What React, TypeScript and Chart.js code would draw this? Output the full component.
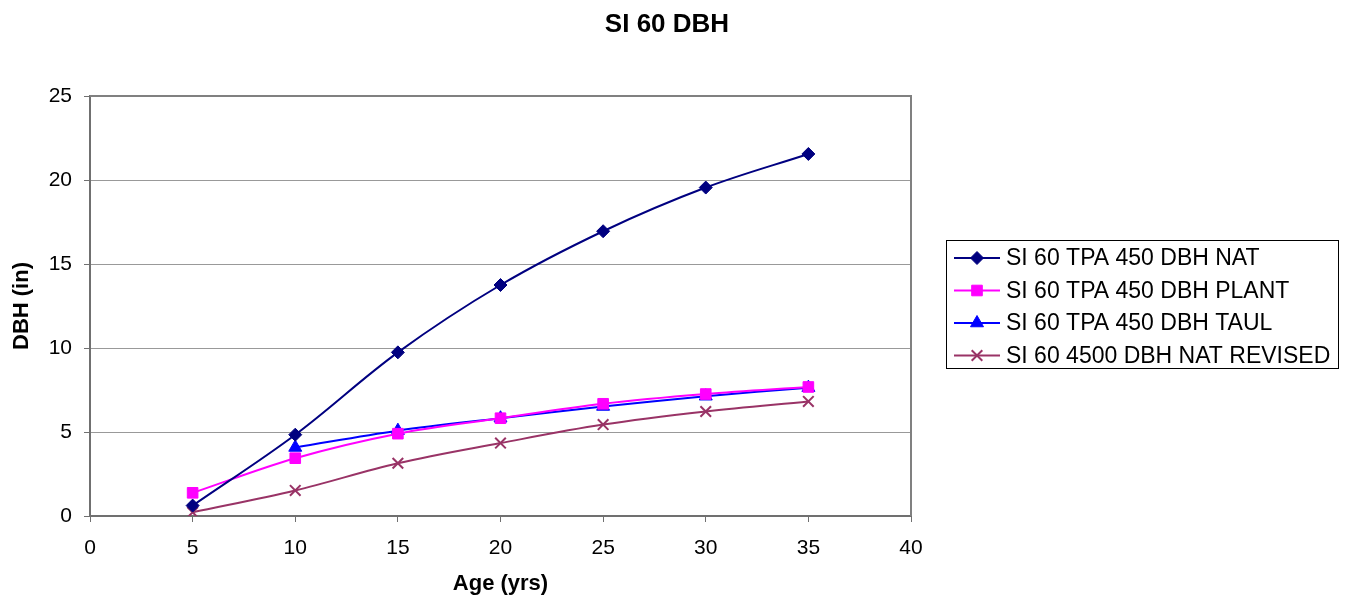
import React, { useEffect, useRef } from "react";
import { Chart, registerables } from "chart.js";
import { drawPoint } from "chart.js/helpers";

Chart.register(...registerables);

const ages = [5, 10, 15, 20, 25, 30, 35];
const natValues = [0.62, 4.84, 9.74, 13.75, 16.95, 19.55, 21.55];
const plantValues = [1.38, 3.44, 4.9, 5.82, 6.68, 7.26, 7.68];
const taulAges = [10, 15, 20, 25, 30, 35];
const taulValues = [4.08, 5.08, 5.82, 6.52, 7.13, 7.64];
const revisedValues = [0.22, 1.52, 3.14, 4.34, 5.44, 6.22, 6.82];

const seriesNames = [
  "SI 60 TPA 450 DBH NAT",
  "SI 60 TPA 450 DBH PLANT",
  "SI 60 TPA 450 DBH TAUL",
  "SI 60 4500 DBH NAT REVISED",
];
const titleText = "SI 60 DBH";
const xTitle = "Age (yrs)";
const yTitle = "DBH (in)";

const FONT = "Arial, 'Liberation Sans', sans-serif";

export default function App() {
  const ref = useRef<HTMLCanvasElement>(null);
  useEffect(() => {
    document.body.style.margin = "0";
    const canvas = ref.current!;
    const mk = (xs: number[], ys: number[]) => xs.map((x, i) => ({ x, y: ys[i] }));
    const styles = [
      { color: "#000080", pointStyle: "rectRot", radius: 6.5, bw: 1 },
      { color: "#FF00FF", pointStyle: "rect", radius: 7.5, bw: 1 },
      { color: "#0000FF", pointStyle: "triangle", radius: 7.5, bw: 1 },
      { color: "#993366", pointStyle: "crossRot", radius: 7.5, bw: 2 },
    ];
    const datas = [
      mk(ages, natValues),
      mk(ages, plantValues),
      mk(taulAges, taulValues),
      mk(ages, revisedValues),
    ];
    const overlay = {
      id: "overlay",
      beforeDatasetsDraw(chart: any) {
        const { ctx, chartArea: a } = chart;
        ctx.save();
        ctx.strokeStyle = "#808080";
        ctx.lineWidth = 2;
        ctx.beginPath();
        ctx.moveTo(a.left, a.top);
        ctx.lineTo(a.right, a.top);
        ctx.lineTo(a.right, a.bottom);
        ctx.stroke();
        ctx.restore();
      },
      afterDraw(chart: any) {
        const { ctx } = chart;
        ctx.save();
        ctx.fillStyle = "#000";
        ctx.font = `bold 26px ${FONT}`;
        ctx.textAlign = "center";
        ctx.textBaseline = "middle";
        ctx.fillText(titleText, 667, 25);
        // legend
        ctx.strokeStyle = "#000";
        ctx.lineWidth = 1;
        ctx.strokeRect(946.5, 240.5, 392, 128);
        const rows = [258, 290.5, 323, 355.5];
        seriesNames.forEach((name, i) => {
          const s = styles[i];
          const y = rows[i];
          ctx.strokeStyle = s.color;
          ctx.lineWidth = 2;
          ctx.beginPath();
          ctx.moveTo(954, y);
          ctx.lineTo(1000, y);
          ctx.stroke();
          ctx.fillStyle = s.color;
          ctx.strokeStyle = s.color;
          ctx.lineWidth = s.bw;
          drawPoint(ctx, { pointStyle: s.pointStyle, radius: s.radius, rotation: 0, borderWidth: s.bw } as any, 977, y);
          ctx.fillStyle = "#000";
          ctx.font = `23px ${FONT}`;
          ctx.textAlign = "left";
          ctx.textBaseline = "middle";
          ctx.fillText(name, 1006, y + 1);
        });
        ctx.restore();
      },
    };
    const chart = new Chart(canvas, {
      type: "line",
      data: {
        datasets: datas.map((d, i) => ({
          label: seriesNames[i],
          data: d,
          borderColor: styles[i].color,
          backgroundColor: styles[i].color,
          pointBackgroundColor: styles[i].color,
          pointBorderColor: styles[i].color,
          pointStyle: styles[i].pointStyle as any,
          pointRadius: styles[i].radius,
          pointBorderWidth: styles[i].bw,
          borderWidth: 2,
          tension: 0.35,
          fill: false,
        })),
      },
      options: {
        animation: false,
        responsive: false,
        devicePixelRatio: 1,
        layout: { padding: { left: 0, top: 96, right: 438, bottom: 0 } },
        plugins: { legend: { display: false }, title: { display: false }, tooltip: { enabled: false } },
        scales: {
          x: {
            type: "linear",
            min: 0,
            max: 40,
            ticks: { stepSize: 5, color: "#000", font: { size: 21, family: FONT }, padding: 14 },
            grid: { drawOnChartArea: false, drawTicks: true, tickLength: 6, color: "#707070" },
            border: { color: "#707070", width: 2 },
            title: { display: true, text: xTitle, color: "#000", font: { size: 22, weight: "bold", family: FONT }, padding: { top: 0, bottom: 6 } },
            afterFit(scale: any) { scale.height = 87; },
          },
          y: {
            min: 0,
            max: 25,
            ticks: { stepSize: 5, color: "#000", font: { size: 21, family: FONT }, padding: 12 },
            grid: {
              color: (c: any) => (c.tick && (c.tick.value === 0 || c.tick.value === 25) ? "rgba(0,0,0,0)" : "#999999"),
              tickColor: "#707070",
              tickLength: 6,
              lineWidth: 1,
              dash: [1, 1],
            } as any,
            border: { color: "#707070", width: 2 },
            title: { display: true, text: yTitle, color: "#000", font: { size: 22, weight: "bold", family: FONT }, padding: { top: 9, bottom: 0 } },
            afterFit(scale: any) { scale.width = 90; },
          },
        },
      },
      plugins: [overlay],
    } as any);
    return () => chart.destroy();
  }, []);
  return <canvas ref={ref} width={1349} height={603} style={{ display: "block" }} />;
}
